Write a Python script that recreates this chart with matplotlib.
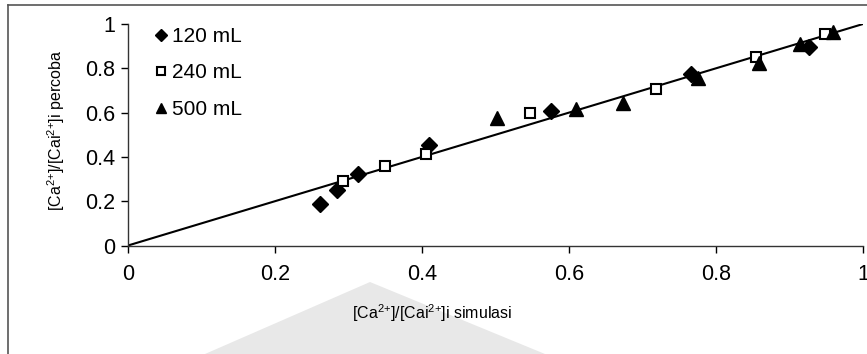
import matplotlib
matplotlib.use("Agg")
import matplotlib.pyplot as plt
from matplotlib.lines import Line2D
from matplotlib.patches import Polygon

plt.rcParams['font.family'] = ['Liberation Sans', 'DejaVu Sans']
plt.rcParams['mathtext.fontset'] = 'custom'
plt.rcParams['mathtext.rm'] = 'Liberation Sans'
plt.rcParams['mathtext.it'] = 'Liberation Sans'

# simulated vs experimental concentration ratios
x_120 = [0.261, 0.284, 0.313, 0.409, 0.576, 0.766, 0.926]
y_120 = [0.187, 0.250, 0.321, 0.452, 0.608, 0.774, 0.898]

x_240 = [0.292, 0.350, 0.406, 0.547, 0.718, 0.854, 0.948]
y_240 = [0.293, 0.360, 0.412, 0.597, 0.707, 0.852, 0.955]

x_500 = [0.502, 0.610, 0.674, 0.776, 0.858, 0.914, 0.959]
y_500 = [0.575, 0.618, 0.645, 0.757, 0.823, 0.908, 0.966]

ticks = [0, 0.2, 0.4, 0.6, 0.8, 1]
tick_labels = ['0', '0.2', '0.4', '0.6', '0.8', '1']

W, H = 867, 354
fig = plt.figure(figsize=(W / 100, H / 100), dpi=100)

# faint background mark near the bottom
fig.patches.append(Polygon([(370 / W, 1 - 282 / H), (205 / W, 0), (545 / W, 0)],
                           closed=True, transform=fig.transFigure,
                           facecolor='#e8e8e8', edgecolor='none', zorder=0))

# chart frame (left and top edges)
fig.add_artist(Line2D([8 / W, 8 / W], [0, 1 - 5 / H], color='#555555', lw=1.2))
fig.add_artist(Line2D([8 / W, 1], [1 - 5 / H, 1 - 5 / H], color='#555555', lw=1.2))

ax = fig.add_axes([128 / W, 1 - 245.5 / H, 735 / W, 221.5 / H])
ax.patch.set_alpha(0)

ax.plot([0, 1], [0, 1], color='black', lw=1.5, zorder=2)
ax.plot(x_120, y_120, linestyle='none', marker='D', ms=8.5, color='black',
        label='120 mL', zorder=3)
ax.plot(x_240, y_240, linestyle='none', marker='s', ms=7.5, mfc='white',
        mec='black', mew=1.5, label='240 mL', zorder=3)
ax.plot(x_500, y_500, linestyle='none', marker='^', ms=9.5, color='black',
        label='500 mL', zorder=3)

ax.set_xlim(0, 1)
ax.set_ylim(0, 1)
ax.set_xticks(ticks)
ax.set_xticklabels(tick_labels)
ax.set_yticks(ticks)
ax.set_yticklabels(tick_labels)
ax.tick_params(direction='out', length=5, width=1, labelsize=15.5, colors='black')
ax.tick_params(axis='x', pad=8)
ax.tick_params(axis='y', pad=4)
for side in ['top', 'right']:
    ax.spines[side].set_visible(False)
for side in ['left', 'bottom']:
    ax.spines[side].set_color('#333333')
    ax.spines[side].set_linewidth(1)

ax.legend(loc='upper left', bbox_to_anchor=(0.025, 1.025), frameon=False,
          fontsize=15, markerscale=0.75, handlelength=0.6, handletextpad=0.25,
          labelspacing=0.84, borderaxespad=0)

fig.text(432 / W, 1 - 313 / H, r'[Ca$^{2{+}}$]/[Cai$^{2{+}}$]i simulasi',
         ha='center', va='center', fontsize=11.5)
fig.text(56 / W, 1 - 130 / H, r'[Ca$^{2{+}}$]/[Cai$^{2{+}}$]i percoba',
         ha='center', va='center', rotation=90, fontsize=11.5)

fig.savefig('out.png', dpi=100)
